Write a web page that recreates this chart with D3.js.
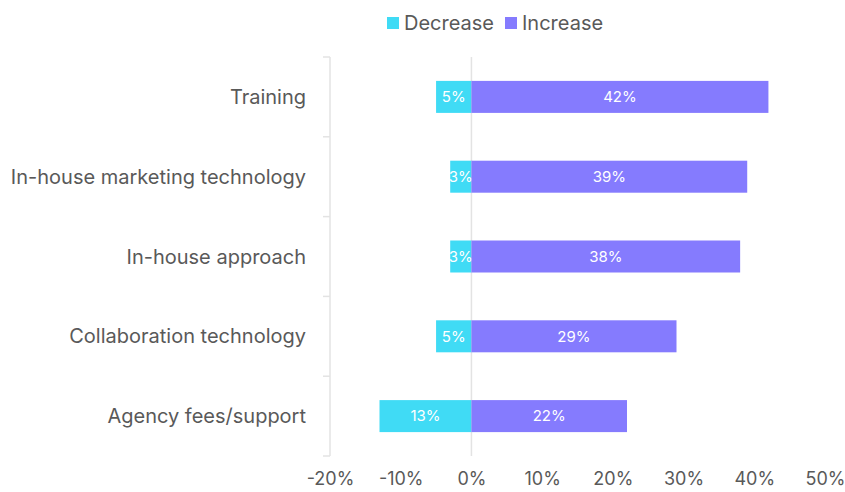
<!DOCTYPE html>
<html>
<head>
<meta charset="utf-8">
<script src="https://cdn.jsdelivr.net/npm/d3@7"></script>
<style>
  body { margin: 0; background: #fff; }
  text { font-family: Inter, "Noto Sans", sans-serif; }
</style>
</head>
<body>
<div id="chart"></div>
<script>
// Data
const categories = [
  "Training",
  "In-house marketing technology",
  "In-house approach",
  "Collaboration technology",
  "Agency fees/support",
];
const decrease = [5, 3, 3, 5, 13];
const increase = [42, 39, 38, 29, 22];
const xTicks = [-20, -10, 0, 10, 20, 30, 40, 50];
const seriesNames = ["Decrease", "Increase"];

const colors = { Decrease: "#40dbf5", Increase: "#857bfe" };

// Dimensions
const dimensions = {
  width: 845,
  height: 492,
  left: 330,
  top: 57,
};
dimensions.ctrWidth = 825 - dimensions.left;
dimensions.ctrHeight = 456 - dimensions.top;

const svg = d3
  .select("#chart")
  .append("svg")
  .attr("width", dimensions.width)
  .attr("height", dimensions.height);

const ctr = svg
  .append("g")
  .attr("transform", `translate(${dimensions.left}, ${dimensions.top})`);

// Scales
const xScale = d3.scaleLinear().domain([-20, 50]).range([0, dimensions.ctrWidth]);

const yScale = d3
  .scaleBand()
  .domain(categories)
  .range([0, dimensions.ctrHeight])
  .paddingInner(0.6)
  .paddingOuter(0.3);

// Zero line
ctr
  .append("line")
  .attr("x1", xScale(0))
  .attr("x2", xScale(0))
  .attr("y1", 0)
  .attr("y2", dimensions.ctrHeight)
  .attr("stroke", "#e3e3e3")
  .attr("stroke-width", 1.5);

// Y axis line with tick marks at category boundaries
ctr
  .append("line")
  .attr("x1", 0)
  .attr("x2", 0)
  .attr("y1", 0)
  .attr("y2", dimensions.ctrHeight)
  .attr("stroke", "#e3e3e3")
  .attr("stroke-width", 1.5);

const boundaries = d3.range(categories.length + 1).map((i) => i * (dimensions.ctrHeight / categories.length));
ctr
  .selectAll(".ytick")
  .data(boundaries)
  .join("line")
  .attr("x1", -7)
  .attr("x2", 0)
  .attr("y1", (d) => d)
  .attr("y2", (d) => d)
  .attr("stroke", "#e3e3e3")
  .attr("stroke-width", 1.5);

// Category labels
ctr
  .selectAll(".cat")
  .data(categories)
  .join("text")
  .attr("x", -24)
  .attr("y", (d) => yScale(d) + yScale.bandwidth() / 2)
  .attr("dy", "0.35em")
  .attr("text-anchor", "end")
  .attr("fill", "#595959")
  .style("font-size", "20px")
  .text((d) => d);

// Bars
const rows = categories.map((c, i) => ({ cat: c, dec: decrease[i], inc: increase[i] }));

const bandH = 32;
const barY = (d) => yScale(d.cat) + yScale.bandwidth() / 2 - bandH / 2;

ctr
  .selectAll(".dec")
  .data(rows)
  .join("rect")
  .attr("x", (d) => xScale(-d.dec))
  .attr("y", barY)
  .attr("width", (d) => xScale(0) - xScale(-d.dec))
  .attr("height", bandH)
  .attr("fill", colors.Decrease);

ctr
  .selectAll(".inc")
  .data(rows)
  .join("rect")
  .attr("x", xScale(0))
  .attr("y", barY)
  .attr("width", (d) => xScale(d.inc) - xScale(0))
  .attr("height", bandH)
  .attr("fill", colors.Increase);

// Bar labels
ctr
  .selectAll(".declbl")
  .data(rows)
  .join("text")
  .attr("x", (d) => (xScale(-d.dec) + xScale(0)) / 2)
  .attr("y", (d) => yScale(d.cat) + yScale.bandwidth() / 2)
  .attr("dy", "0.35em")
  .attr("text-anchor", "middle")
  .attr("fill", "#fff")
  .style("font-size", "15px")
  .text((d) => `${d.dec}%`);

ctr
  .selectAll(".inclbl")
  .data(rows)
  .join("text")
  .attr("x", (d) => (xScale(d.inc) + xScale(0)) / 2)
  .attr("y", (d) => yScale(d.cat) + yScale.bandwidth() / 2)
  .attr("dy", "0.35em")
  .attr("text-anchor", "middle")
  .attr("fill", "#fff")
  .style("font-size", "15px")
  .text((d) => `${d.inc}%`);

// X axis
const xAxis = d3
  .axisBottom(xScale)
  .tickValues(xTicks)
  .tickSize(0)
  .tickPadding(16)
  .tickFormat((d) => `${d}%`);

const xg = ctr
  .append("g")
  .attr("transform", `translate(0, ${dimensions.ctrHeight})`)
  .call(xAxis);
xg.select(".domain").remove();
xg.selectAll("text")
  .attr("fill", "#595959")
  .style("font-size", "18px")
  .style("font-family", "Inter, 'Noto Sans', sans-serif");

// Legend
const legend = svg.append("g").attr("transform", "translate(387, 23)");
const legendX = [0, 118];
seriesNames.forEach((name, i) => {
  const g = legend.append("g").attr("transform", `translate(${legendX[i]}, 0)`);
  g.append("rect")
    .attr("x", 0)
    .attr("y", -6)
    .attr("width", 12)
    .attr("height", 12)
    .attr("fill", colors[name]);
  g.append("text")
    .attr("x", 17)
    .attr("y", 0)
    .attr("dy", "0.35em")
    .attr("fill", "#595959")
    .style("font-size", "20px")
    .text(name);
});
</script>
</body>
</html>
